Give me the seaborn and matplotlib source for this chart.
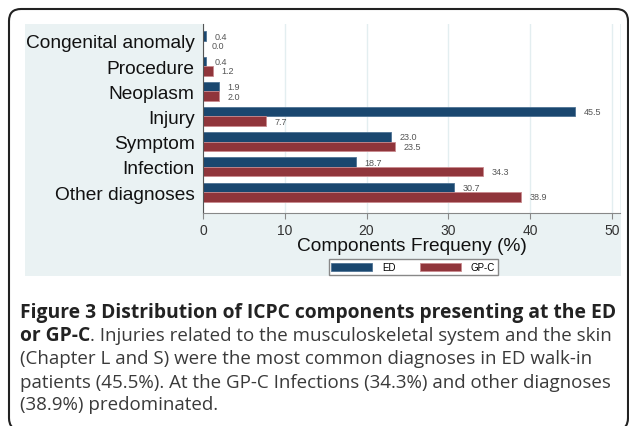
import numpy as np
import pandas as pd
import matplotlib
matplotlib.use("Agg")
import matplotlib.pyplot as plt
import seaborn as sns
from matplotlib.patches import Rectangle, FancyBboxPatch
from matplotlib.transforms import IdentityTransform

# data
categories = ["Congenital anomaly", "Procedure", "Neoplasm", "Injury",
              "Symptom", "Infection", "Other diagnoses"]
ed_values = [0.4, 0.4, 1.9, 45.5, 23.0, 18.7, 30.7]
gpc_values = [0.0, 1.2, 2.0, 7.7, 23.5, 34.3, 38.9]
groups = ["ED", "GP-C"]
xticks = [0, 10, 20, 30, 40, 50]

df = pd.DataFrame({
    "Category": categories * 2,
    "Frequency": ed_values + gpc_values,
    "Group": [groups[0]] * len(categories) + [groups[1]] * len(categories),
})

W, H = 629, 427
fig = plt.figure(figsize=(W / 100, H / 100), dpi=100)
fig.patch.set_facecolor("white")

# Stata-like light graph region
fig.patches.append(Rectangle((25 / W, 1 - 277 / H), (621 - 25) / W, (277 - 25) / H,
                             transform=fig.transFigure, facecolor="#eaf2f3",
                             edgecolor="none", zorder=-5))
# rounded panel border
fig.patches.append(FancyBboxPatch((9, -4), 619, H - 10 + 4,
                                  boxstyle="round,pad=0,rounding_size=12",
                                  transform=IdentityTransform(), facecolor="none",
                                  edgecolor="#222222", linewidth=1.5, zorder=-4))

ax = fig.add_axes([203 / W, 1 - 214 / H, (620 - 203) / W, (214 - 25) / H])
ax.set_zorder(2)
ax.set_facecolor("white")

sns.barplot(data=df, x="Frequency", y="Category", hue="Group", orient="h",
            palette=["#1a476f", "#90353b"], saturation=1, width=0.75, ax=ax,
            edgecolor="none", legend=False, errorbar=None)

edge_cols = ["#4f7394", "#c98a8e"]
for cont, ec in zip(ax.containers, edge_cols):
    for p in cont:
        p.set_edgecolor(ec)
        p.set_linewidth(0.6)
    ax.bar_label(cont, fmt="%.1f", padding=6, fontsize=6.5,
                 color="#555555", family="Liberation Sans")

ax.set_xlim(0, 51)
ax.set_ylim(6.83, -0.67)
ax.set_xticks(xticks)
ax.grid(axis="x", color="#e3eef0", linewidth=1)
ax.grid(axis="y", visible=False)
ax.set_axisbelow(True)
for s in ["top", "right"]:
    ax.spines[s].set_visible(False)
ax.spines["left"].set_color("#555555")
ax.spines["bottom"].set_color("#888888")
ax.tick_params(axis="y", length=0, pad=6, labelsize=13.8, labelcolor="#111111")
ax.tick_params(axis="x", length=4, color="#888888", labelsize=10,
               labelcolor="#333333", pad=3)
for lab in ax.get_yticklabels() + ax.get_xticklabels():
    lab.set_family("Liberation Sans")
ax.set_ylabel("")
ax.set_xlabel("Components Frequeny (%)", fontsize=13.8, family="Liberation Sans",
              color="#111111", labelpad=0)

# legend
handles = [Rectangle((0, 0), 1, 1, facecolor=c, edgecolor=e, linewidth=0.6)
           for c, e in zip(["#1a476f", "#90353b"], edge_cols)]
leg = fig.legend(handles, groups, loc="center", bbox_to_anchor=(413 / W, 1 - 268 / H),
                 ncol=2, prop={"family": "Liberation Sans", "size": 7},
                 frameon=True, fancybox=False, edgecolor="#888888", framealpha=1,
                 handlelength=4.2, handleheight=0.9, columnspacing=2.5,
                 handletextpad=1.0, borderpad=0.3)
leg.set_zorder(3)

# caption
cap_font = "Open Sans"
fs = 13.5
y_lines = [313, 336, 359, 383, 405]
x0 = 20 / W
fig.text(x0, 1 - y_lines[0] / H,
         "Figure 3 Distribution of ICPC components presenting at the ED",
         fontsize=13.9, weight="bold", family=cap_font, va="center", color="#222222")
t = fig.text(x0, 1 - y_lines[1] / H, "or GP-C", fontsize=13.9, weight="bold",
             family=cap_font, va="center", color="#222222")
fig.canvas.draw()
bb = t.get_window_extent()
fig.text(bb.x1 / W, 1 - y_lines[1] / H,
         ". Injuries related to the musculoskeletal system and the skin",
         fontsize=fs, family=cap_font, va="center", color="#3a3a3a")
rest = ["(Chapter L and S) were the most common diagnoses in ED walk-in",
        "patients (45.5%). At the GP-C Infections (34.3%) and other diagnoses",
        "(38.9%) predominated."]
for yy, line in zip(y_lines[2:], rest):
    fig.text(x0, 1 - yy / H, line, fontsize=fs, family=cap_font, va="center",
             color="#3a3a3a")

fig.savefig("out.png", dpi=100)
